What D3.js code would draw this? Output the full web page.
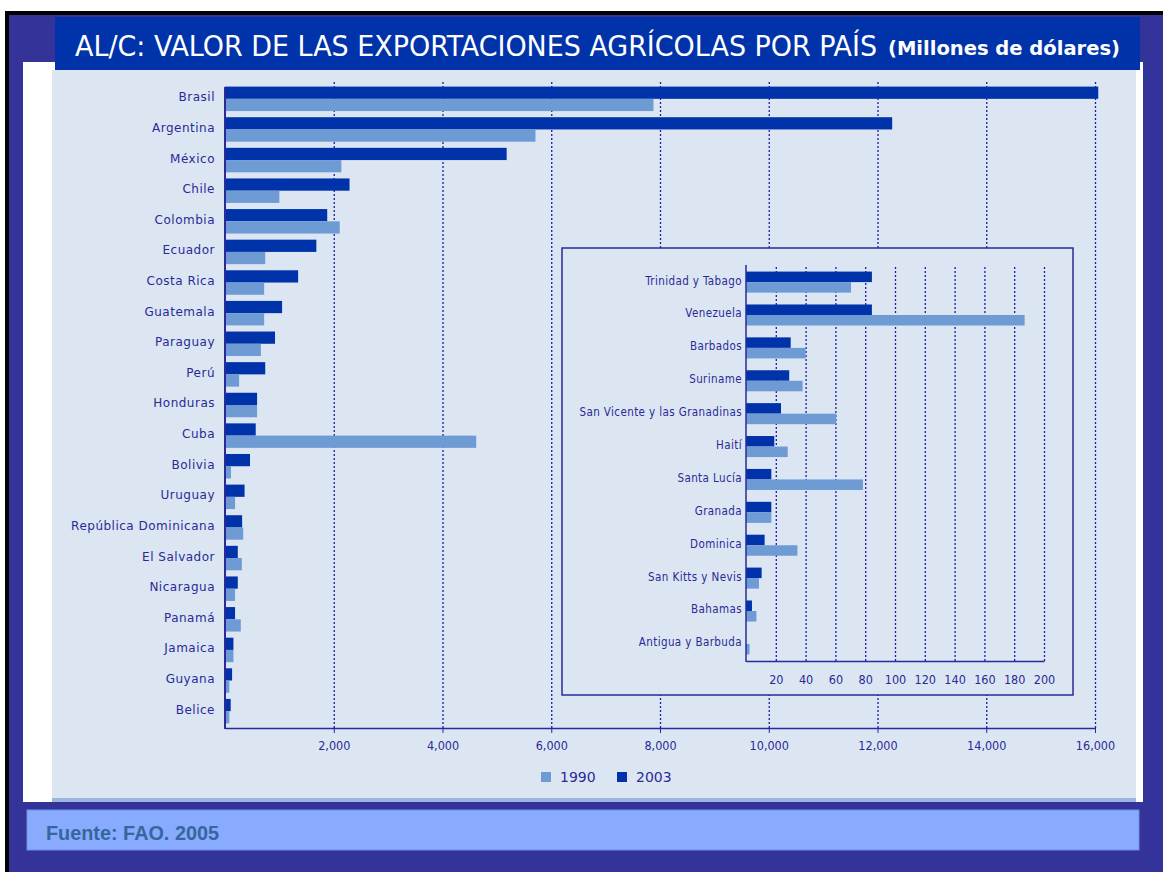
<!DOCTYPE html>
<html lang="es">
<head>
<meta charset="UTF-8">
<title>AL/C: valor de las exportaciones agrícolas por país</title>
<script src="https://d3js.org/d3.v7.min.js"></script>
<style>
  body { margin: 0; background: #fff; }
  svg { display: block; }
</style>
</head>
<body>
<svg width="1163" height="872"></svg>
<script>
// datos (millones de dólares)
var countries = ["Brasil", "Argentina", "México", "Chile", "Colombia", "Ecuador", "Costa Rica",
  "Guatemala", "Paraguay", "Perú", "Honduras", "Cuba", "Bolivia", "Uruguay",
  "República Dominicana", "El Salvador", "Nicaragua", "Panamá", "Jamaica", "Guyana", "Belice"];
var values1990 = [7880, 5710, 2140, 1000, 2110, 740, 720, 720, 660, 260, 590, 4620, 110, 185,
  335, 310, 185, 290, 155, 80, 80];
var values2003 = [16060, 12270, 5180, 2290, 1880, 1680, 1345, 1050, 920, 740, 590, 565, 460, 360,
  315, 235, 235, 185, 155, 130, 105];
var mainTicks = [2000, 4000, 6000, 8000, 10000, 12000, 14000, 16000];

// recuadro: países pequeños
var smallCountries = ["Trinidad y Tabago", "Venezuela", "Barbados", "Suriname",
  "San Vicente y las Granadinas", "Haití", "Santa Lucía", "Granada", "Dominica",
  "San Kitts y Nevis", "Bahamas", "Antigua y Barbuda"];
var small1990 = [70.5, 187, 40, 38, 60.5, 28, 78.5, 17, 34.5, 8.7, 7, 2.4];
var small2003 = [84.5, 84.5, 30, 29, 23.5, 19, 17, 17, 12.5, 10.5, 4, 0];
var smallTicks = [20, 40, 60, 80, 100, 120, 140, 160, 180, 200];

var years = ["2003", "1990"];
var colors = { "1990": "#6f9bd5", "2003": "#0033aa" };
var ink = "#2a2a96";
var gridColor = "#1c1ca6";

var svg = d3.select("svg");

// marco y fondos
svg.append("rect").attr("x", 5).attr("y", 11).attr("width", 1158).attr("height", 861).attr("fill", "#000");
svg.append("rect").attr("x", 9).attr("y", 15).attr("width", 1154).attr("height", 857).attr("fill", "#333399");
svg.append("rect").attr("x", 23).attr("y", 62).attr("width", 1120).attr("height", 740).attr("fill", "#fff");
svg.append("rect").attr("x", 52).attr("y", 70).attr("width", 1084).attr("height", 732).attr("fill", "#9bb5dc");
svg.append("rect").attr("x", 52).attr("y", 70).attr("width", 1084).attr("height", 728).attr("fill", "#dce6f3");

// título
svg.append("rect").attr("x", 55).attr("y", 17).attr("width", 1085).attr("height", 53).attr("fill", "#0033aa");
svg.append("text")
  .attr("x", 75).attr("y", 56)
  .attr("fill", "#fff")
  .style("font-family", "'DejaVu Sans Condensed', 'DejaVu Sans'")
  .style("font-size", "28px")
  .attr("textLength", 802).attr("lengthAdjust", "spacingAndGlyphs")
  .text("AL/C: VALOR DE LAS EXPORTACIONES AGRÍCOLAS POR PAÍS");
svg.append("text")
  .attr("x", 888).attr("y", 55)
  .attr("fill", "#fff")
  .style("font-family", "'DejaVu Sans Condensed', 'DejaVu Sans'")
  .style("font-size", "20px")
  .style("font-weight", "bold")
  .attr("textLength", 232).attr("lengthAdjust", "spacingAndGlyphs")
  .text("(Millones de dólares)");

// ---- gráfico principal ----
var x = d3.scaleLinear().domain([0, 16000]).range([225, 1095]);
var y = d3.scaleBand().domain(countries).range([82, 728]).paddingInner(0.2).paddingOuter(0.15);
var ySub = d3.scaleBand().domain(years).range([0, y.bandwidth()]);

var grid = svg.append("g").attr("transform", "translate(0,728)")
  .call(d3.axisBottom(x).tickValues(mainTicks).tickSize(-647).tickFormat(""));
grid.select(".domain").remove();
grid.selectAll("line").attr("stroke", gridColor).attr("stroke-width", 1.3).attr("stroke-dasharray", "2,2");

var rows = svg.append("g").selectAll("g")
  .data(countries).enter().append("g")
  .attr("transform", function (d) { return "translate(0," + y(d) + ")"; });

rows.selectAll("rect")
  .data(function (d, i) {
    return [{ year: "2003", v: values2003[i] }, { year: "1990", v: values1990[i] }];
  })
  .enter().append("rect")
  .attr("x", x(0))
  .attr("y", function (d) { return ySub(d.year); })
  .attr("width", function (d) { return x(d.v) - x(0); })
  .attr("height", ySub.bandwidth())
  .attr("fill", function (d) { return colors[d.year]; });

rows.append("text")
  .attr("x", 215).attr("y", ySub.bandwidth() + 2.5)
  .attr("text-anchor", "end")
  .attr("fill", ink)
  .style("font-family", "'DejaVu Sans', sans-serif")
  .style("font-size", "12px")
  .style("letter-spacing", "0.5px")
  .text(function (d) { return d; });

// ejes
svg.append("line").attr("x1", x(0)).attr("x2", x(0)).attr("y1", 87).attr("y2", 729)
  .attr("stroke", "#2a2a9a").attr("stroke-width", 2);
var xAxis = svg.append("g").attr("transform", "translate(0,728)")
  .call(d3.axisBottom(x).tickValues(mainTicks).tickSize(5).tickSizeOuter(0)
    .tickFormat(d3.format(",")));
xAxis.select(".domain").attr("stroke", "#2a2a9a").attr("stroke-width", 1.5);
xAxis.selectAll("line").attr("stroke", "#2a2a9a");
xAxis.selectAll("text")
  .attr("fill", ink).attr("dy", "1.1em")
  .style("font-family", "'DejaVu Sans Condensed', 'DejaVu Sans'")
  .style("font-size", "12.5px");

// leyenda
var legend = svg.append("g").attr("transform", "translate(541,772)");
[{ year: "1990", x: 0 }, { year: "2003", x: 76 }].forEach(function (l) {
  legend.append("rect").attr("x", l.x).attr("y", 0).attr("width", 10).attr("height", 10)
    .attr("fill", colors[l.year]);
  legend.append("text").attr("x", l.x + 19).attr("y", 10)
    .attr("fill", ink)
    .style("font-family", "'DejaVu Sans', sans-serif")
    .style("font-size", "14px")
    .text(l.year);
});

// ---- recuadro ----
svg.append("rect").attr("x", 562).attr("y", 248).attr("width", 511).attr("height", 447)
  .attr("fill", "#dce6f3").attr("stroke", "#2a2a9a").attr("stroke-width", 1.5);

var xs = d3.scaleLinear().domain([0, 200]).range([746, 1044]);
var ys = d3.scaleBand().domain(smallCountries).range([265, 661]).paddingInner(0.36).paddingOuter(0.2);
var ysSub = d3.scaleBand().domain(years).range([0, ys.bandwidth()]);

var sgrid = svg.append("g").attr("transform", "translate(0,661)")
  .call(d3.axisBottom(xs).tickValues(smallTicks).tickSize(-396).tickFormat(""));
sgrid.select(".domain").remove();
sgrid.selectAll("line").attr("stroke", gridColor).attr("stroke-width", 1.3).attr("stroke-dasharray", "2,2");

var srows = svg.append("g").selectAll("g")
  .data(smallCountries).enter().append("g")
  .attr("transform", function (d) { return "translate(0," + ys(d) + ")"; });

srows.selectAll("rect")
  .data(function (d, i) {
    return [{ year: "2003", v: small2003[i] }, { year: "1990", v: small1990[i] }];
  })
  .enter().append("rect")
  .attr("x", xs(0))
  .attr("y", function (d) { return ysSub(d.year); })
  .attr("width", function (d) { return xs(d.v) - xs(0); })
  .attr("height", ysSub.bandwidth())
  .attr("fill", function (d) { return colors[d.year]; });

srows.append("text")
  .attr("x", 742).attr("y", ysSub.bandwidth() + 2.5)
  .attr("text-anchor", "end")
  .attr("fill", ink)
  .style("font-family", "'DejaVu Sans Condensed', 'DejaVu Sans'")
  .style("font-size", "11.5px")
  .style("letter-spacing", "0.4px")
  .text(function (d) { return d; });

svg.append("line").attr("x1", xs(0)).attr("x2", xs(0)).attr("y1", 265).attr("y2", 662)
  .attr("stroke", "#2a2a9a").attr("stroke-width", 1.5);
var sAxis = svg.append("g").attr("transform", "translate(0,661)")
  .call(d3.axisBottom(xs).tickValues(smallTicks).tickSize(0).tickSizeOuter(0));
sAxis.select(".domain").attr("stroke", "#2a2a9a").attr("stroke-width", 1.5);
sAxis.selectAll("text")
  .attr("fill", ink).attr("dy", "1.6em")
  .style("font-family", "'DejaVu Sans Condensed', 'DejaVu Sans'")
  .style("font-size", "12.5px");

// fuente
svg.append("rect").attr("x", 27).attr("y", 810).attr("width", 1112).attr("height", 40)
  .attr("fill", "#88aaff").attr("stroke", "#6f8fe0").attr("stroke-width", 1);
svg.append("text")
  .attr("x", 46).attr("y", 840)
  .attr("fill", "#36679c")
  .style("font-family", "'Liberation Sans Narrow', 'Liberation Sans', sans-serif")
  .style("font-size", "21px")
  .style("font-weight", "bold")
  .attr("textLength", 173).attr("lengthAdjust", "spacingAndGlyphs")
  .text("Fuente: FAO. 2005");
</script>
</body>
</html>
